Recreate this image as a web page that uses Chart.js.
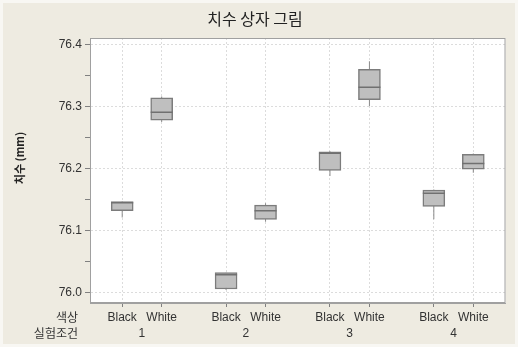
<!DOCTYPE html>
<html>
<head>
<meta charset="utf-8">
<script src="https://cdn.jsdelivr.net/npm/chart.js@4.4.0/dist/chart.umd.min.js"></script>
<style>
  html, body { margin: 0; padding: 0; background: #ffffff; }
  canvas { display: block; }
</style>
</head>
<body>
<canvas id="chart" width="518" height="347"></canvas>
<script>
// Experiment conditions (outer x grouping) and colours (inner x grouping)
const experiments = ['1', '2', '3', '4'];
const colours = ['Black', 'White'];

// Box statistics per experiment: [lower whisker, Q1, median, Q3, upper whisker] in mm
const blackStats = [
  [76.121, 76.132, 76.1448, 76.1468, 76.1468],
  [76.004, 76.0056, 76.0287, 76.032, 76.032],
  [76.188, 76.197, 76.2245, 76.227, 76.228],
  [76.118, 76.139, 76.160, 76.165, 76.166]
];
const whiteStats = [
  [76.275, 76.278, 76.2906, 76.314, 76.316],
  [76.114, 76.118, 76.132, 76.141, 76.144],
  [76.301, 76.311, 76.331, 76.360, 76.373],
  [76.193, 76.199, 76.208, 76.223, 76.224]
];

// Y axis tick values (major ones labelled, half steps as minor marks)
const yTickValues = [76.0, 76.05, 76.1, 76.15, 76.2, 76.25, 76.3, 76.35, 76.4];
const yTickLabels = ['76.0', '', '76.1', '', '76.2', '', '76.3', '', '76.4'];

const TITLE = '치수 상자 그림';
const Y_TITLE = '치수 (mm)';
const ROW_CAPTIONS = ['색상', '실험조건'];

// Horizontal offset of each colour inside an experiment group
const SHIFT = 0.19;
const positions = [];
experiments.forEach((e, i) => colours.forEach((c, j) => positions.push(i + 1 + (j === 0 ? -SHIFT : SHIFT))));

const boxData = [];
const whiskerData = [];
const medianData = [];
experiments.forEach((e, i) => {
  [blackStats[i], whiteStats[i]].forEach((s, j) => {
    const x = positions[i * 2 + j];
    whiskerData.push({ x: x, y: [s[0], s[4]] });
    boxData.push({ x: x, y: [s[1], s[3]] });
    medianData.push({ x: x, y: s[2] });
  });
});

const LATIN = "'Liberation Sans', 'Noto Sans CJK KR', sans-serif";
const HANGUL = "'Noto Sans CJK KR', 'Liberation Sans', sans-serif";

const framePlugin = {
  id: 'frame',
  beforeDraw(chart) {
    const { ctx, width, height, chartArea: a } = chart;
    ctx.save();
    ctx.fillStyle = '#f8f7f3';
    ctx.fillRect(0, 0, width, height);
    ctx.fillStyle = '#eeebe1';
    ctx.fillRect(3, 3, width - 6, height - 6);
    ctx.fillStyle = '#ffffff';
    ctx.fillRect(a.left, a.top, a.right - a.left, a.bottom - a.top);
    ctx.restore();
  },
  afterDraw(chart) {
    const { ctx, chartArea: a, scales } = chart;
    ctx.save();
    ctx.strokeStyle = '#a0a0a0';
    ctx.lineWidth = 1;
    ctx.strokeRect(a.left + 0.5, a.top + 0.5, a.right - a.left - 1, a.bottom - a.top - 1);

    ctx.fillStyle = '#333333';
    ctx.font = '12px ' + HANGUL;
    ctx.textAlign = 'right';
    ctx.textBaseline = 'middle';
    ctx.fillText(ROW_CAPTIONS[0], 78, scales.x.top + 4 + 3 + 7.2);
    ctx.fillText(ROW_CAPTIONS[1], 78, scales.x2.top + 1 + 7.2);

    // rotated y axis title
    ctx.translate(20, 158);
    ctx.rotate(-Math.PI / 2);
    ctx.textAlign = 'center';
    ctx.font = 'bold 11px ' + HANGUL;
    ctx.fillStyle = '#222222';
    ctx.fillText(Y_TITLE, 0, 0);
    ctx.restore();
  }
};

new Chart(document.getElementById('chart'), {
  type: 'bar',
  data: {
    datasets: [
      {
        type: 'scatter',
        label: 'median',
        data: medianData,
        order: 0,
        pointStyle: 'line',
        pointRadius: 11,
        pointHoverRadius: 11,
        pointBorderWidth: 1.5,
        pointBorderColor: '#707070',
        pointBackgroundColor: '#707070'
      },
      {
        label: 'box',
        data: boxData,
        order: 1,
        grouped: false,
        barThickness: 22,
        backgroundColor: '#bfbfbf',
        borderColor: '#7c7c7c',
        borderWidth: 1.5,
        borderSkipped: false
      },
      {
        label: 'whisker',
        data: whiskerData,
        order: 2,
        grouped: false,
        barThickness: 1,
        inflateAmount: 0,
        backgroundColor: '#8a8a8a',
        borderWidth: 0
      }
    ]
  },
  options: {
    responsive: false,
    animation: false,
    devicePixelRatio: 1,
    layout: { padding: { left: 0, right: 8, top: 0, bottom: 4 } },
    plugins: {
      legend: { display: false },
      tooltip: { enabled: false },
      title: {
        display: true,
        text: TITLE,
        color: '#222222',
        font: { family: HANGUL, size: 16, weight: 'normal', lineHeight: 1.2 },
        padding: { top: 9, bottom: 9.8 }
      }
    },
    scales: {
      x: {
        type: 'linear',
        position: 'bottom',
        weight: 0,
        min: 0.5,
        max: 4.5,
        offset: false,
        afterBuildTicks(scale) { scale.ticks = positions.map(v => ({ value: v })); },
        afterFit(scale) { scale.height = 22; },
        ticks: {
          autoSkip: false,
          maxRotation: 0,
          padding: 3,
          color: '#333333',
          font: { family: LATIN, size: 12 },
          callback: (v, i) => colours[i % 2]
        },
        grid: {
          offset: false,
          color: '#dcdcdc',
          tickColor: '#808080',
          tickBorderDash: [],
          tickLength: 4,
          lineWidth: 1
        },
        border: { color: '#a0a0a0', width: 1, dash: [2, 2] }
      },
      x2: {
        type: 'linear',
        position: 'bottom',
        weight: 1,
        min: 0.5,
        max: 4.5,
        offset: false,
        afterBuildTicks(scale) { scale.ticks = experiments.map((e, i) => ({ value: i + 1 })); },
        afterFit(scale) { scale.height = 18; },
        ticks: {
          autoSkip: false,
          maxRotation: 0,
          padding: 1,
          color: '#333333',
          font: { family: LATIN, size: 12 },
          callback: (v, i) => experiments[i]
        },
        grid: { display: false, drawTicks: false },
        border: { display: false }
      },
      y: {
        type: 'linear',
        min: 75.983,
        max: 76.4105,
        beginAtZero: false,
        afterBuildTicks(scale) { scale.ticks = yTickValues.map(v => ({ value: v })); },
        afterFit(scale) { scale.width = 90; },
        ticks: {
          autoSkip: false,
          padding: 3,
          color: '#333333',
          font: { family: LATIN, size: 12 },
          callback: (v, i) => yTickLabels[i]
        },
        grid: {
          color: ctx => (yTickLabels[ctx.index] ? '#dcdcdc' : 'rgba(0,0,0,0)'),
          tickColor: '#808080',
          tickBorderDash: [],
          tickLength: 5,
          lineWidth: 1
        },
        border: { color: '#a0a0a0', width: 1, dash: [2, 2] }
      }
    }
  },
  plugins: [framePlugin]
});
</script>
</body>
</html>
